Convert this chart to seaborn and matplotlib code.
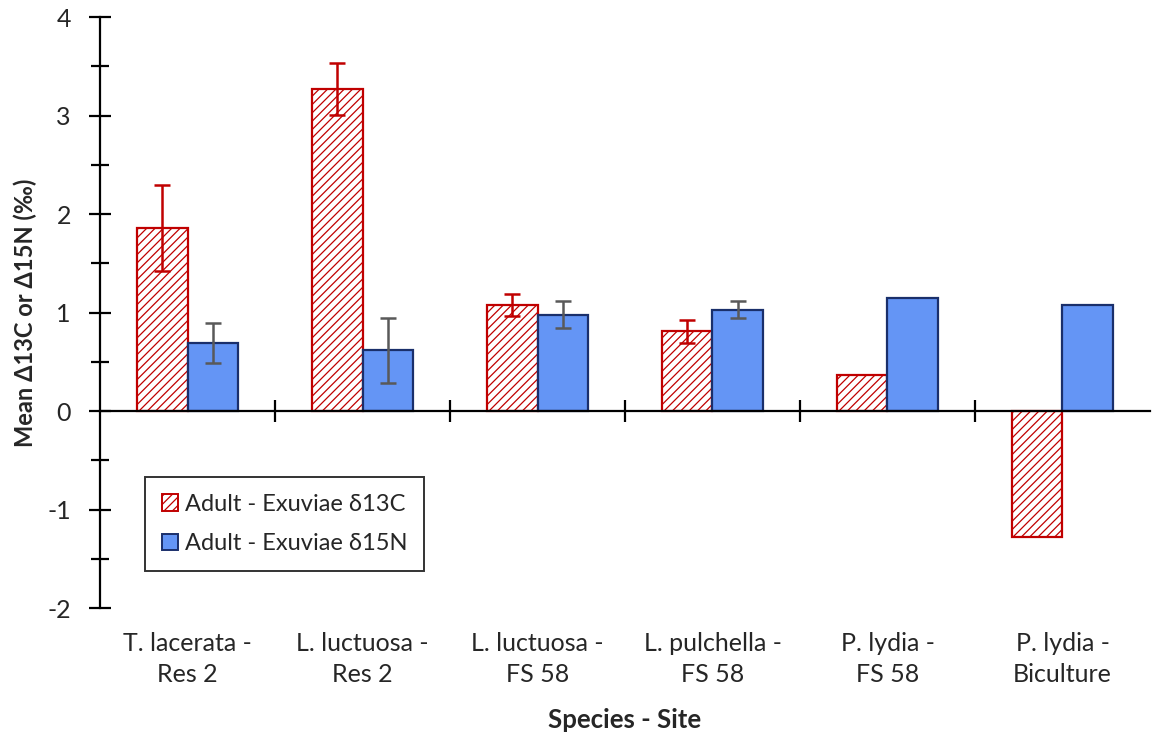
import numpy as np
import pandas as pd
import matplotlib
matplotlib.use("Agg")
import matplotlib.pyplot as plt
import matplotlib.transforms as mtransforms
from matplotlib.patches import Patch
import seaborn as sns

# Species - site groups
categories = ["T. lacerata -\nRes 2", "L. luctuosa -\nRes 2", "L. luctuosa -\nFS 58",
              "L. pulchella -\nFS 58", "P. lydia -\nFS 58", "P. lydia -\nBiculture"]
series = ["Adult - Exuviae δ13C", "Adult - Exuviae δ15N"]

# Mean differences (‰) and their error half-widths (nan = no error bar)
delta_c = [1.86, 3.27, 1.08, 0.81, 0.37, -1.28]
delta_c_err = [0.44, 0.26, 0.11, 0.12, np.nan, np.nan]
delta_n = [0.69, 0.62, 0.98, 1.03, 1.15, 1.08]
delta_n_err = [0.20, 0.33, 0.14, 0.085, np.nan, np.nan]

y_ticks = [-2, -1, 0, 1, 2, 3, 4]

sns.set_theme(style="white")
plt.rcParams["font.family"] = ["Lato", "DejaVu Sans"]
plt.rcParams["hatch.linewidth"] = 0.9

df = pd.DataFrame({
    "site": categories * 2,
    "series": [series[0]] * len(categories) + [series[1]] * len(categories),
    "value": delta_c + delta_n,
})

red = "#C00000"
blue_face = "#6495F5"
blue_edge = "#1A2F6B"
err_grey = "#595959"
hatch = "////"

fig = plt.figure(figsize=(11.54, 7.4), dpi=100)
ax = fig.add_axes([0.0867, 0.178, 0.9098, 0.799])

sns.barplot(data=df, x="site", y="value", hue="series", order=categories,
            hue_order=series, width=0.58, errorbar=None, ax=ax,
            palette=["white", blue_face], legend=False)

n = len(categories)
red_bars = ax.patches[:n]
blue_bars = ax.patches[n:2 * n]
for b in red_bars:
    b.set_facecolor("white")
    b.set_edgecolor(red)
    b.set_hatch(hatch)
    b.set_linewidth(1.6)
for b in blue_bars:
    b.set_facecolor(blue_face)
    b.set_edgecolor(blue_edge)
    b.set_linewidth(1.6)

# error bars at the bar centres
xc = [b.get_x() + b.get_width() / 2 for b in red_bars]
xn = [b.get_x() + b.get_width() / 2 for b in blue_bars]
ax.errorbar(xc, delta_c, yerr=delta_c_err, fmt="none", ecolor=red,
            elinewidth=1.8, capsize=6, capthick=1.8, zorder=5)
ax.errorbar(xn, delta_n, yerr=delta_n_err, fmt="none", ecolor=err_grey,
            elinewidth=1.8, capsize=6, capthick=1.8, zorder=5)

ax.set_xlim(-0.5, n - 0.5)
ax.set_ylim(-2, 4)

# axes: left spine full height, horizontal axis at zero
for s in ["top", "right"]:
    ax.spines[s].set_visible(False)
ax.spines["left"].set_color("black")
ax.spines["left"].set_linewidth(1.6)
ax.spines["bottom"].set_position(("data", 0))
ax.spines["bottom"].set_color("black")
ax.spines["bottom"].set_linewidth(1.6)

ax.set_yticks(y_ticks)
ax.set_yticklabels([str(t) for t in y_ticks], fontsize=18)
ax.set_yticks(np.arange(-1.5, 4, 1.0), minor=True)
ax.tick_params(axis="y", which="both", direction="inout", length=16, width=1.6,
               color="black", left=True, pad=13)
ax.tick_params(axis="y", which="minor", length=13)

ax.set_xticks(np.arange(0.5, n - 0.5, 1.0))
ax.set_xticklabels([])
ax.tick_params(axis="x", which="major", direction="inout", length=16, width=1.6,
               color="black", bottom=True)
ax.set_xlabel("")
ax.set_ylabel("Mean Δ13C or Δ15N (‰)", fontsize=17, fontweight="bold")
ax.yaxis.set_label_coords(-0.06, 0.5)

# category labels below the plotting area
trans = mtransforms.blended_transform_factory(ax.transData, ax.transAxes)
for i, lab in enumerate(categories):
    ax.text(i, -0.04, lab, transform=trans, ha="center", va="top",
            fontsize=18, linespacing=1.4)
fig.text(0.5 * (0.0867 + 0.9965), 0.027, "Species - Site", ha="center",
         va="center", fontsize=18.5, fontweight="bold")

handles = [Patch(facecolor="white", edgecolor=red, hatch=hatch, linewidth=1.4),
           Patch(facecolor=blue_face, edgecolor=blue_edge, linewidth=1.4)]
leg = ax.legend(handles, series, loc="upper left", bbox_to_anchor=(0.043, 0.222),
                frameon=True, fancybox=False, fontsize=17, handlelength=0.7,
                handleheight=0.7, handletextpad=0.3, labelspacing=0.8,
                borderpad=0.7, borderaxespad=0)
leg.get_frame().set_edgecolor("black")
leg.get_frame().set_linewidth(1.4)

fig.savefig("out.png", dpi=100)
